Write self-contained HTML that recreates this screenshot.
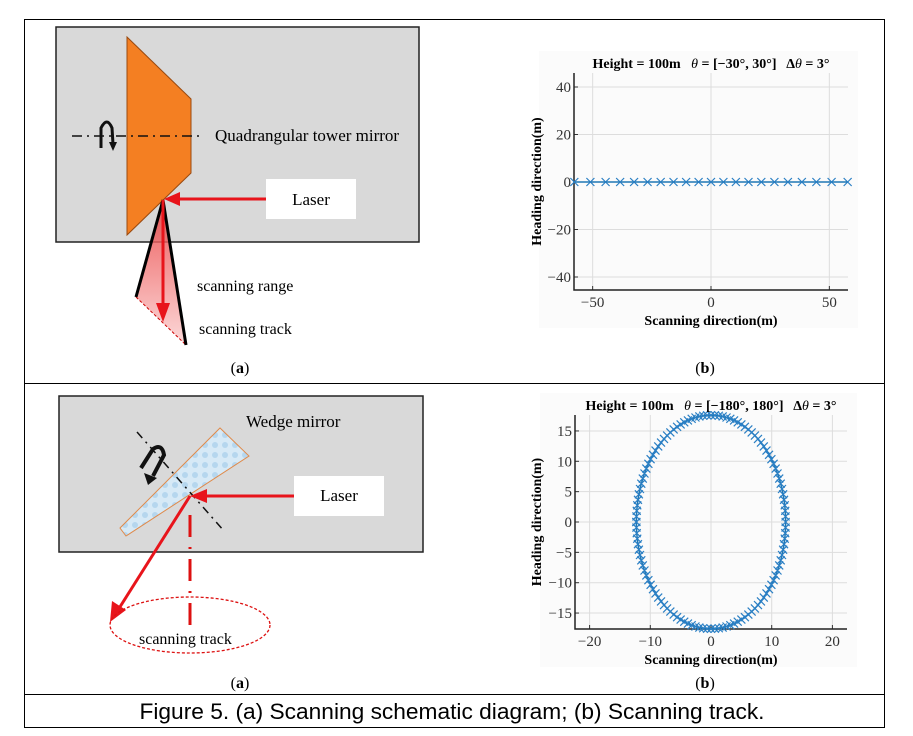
<!DOCTYPE html>
<html><head><meta charset="utf-8"><style>
html,body{margin:0;padding:0;background:#fff;}
svg{display:block;}
text{font-family:"Liberation Serif",serif;}
</style></head><body>
<svg id="s" width="913" height="736" viewBox="0 0 913 736" xmlns="http://www.w3.org/2000/svg">
<defs>
<linearGradient id="pk" x1="0" y1="0" x2="0" y2="1"><stop offset="0" stop-color="#e83030"/><stop offset="1" stop-color="#fbd0d0"/></linearGradient>
<pattern id="wb" width="10" height="10" patternUnits="userSpaceOnUse"><rect width="10" height="10" fill="#d6e9f6"/><circle cx="5" cy="5" r="3" fill="#b5d6ee"/></pattern>
</defs>
<rect x="24.5" y="19.5" width="860" height="708" fill="none" stroke="#000" stroke-width="1"/>
<line x1="24" y1="383.5" x2="885" y2="383.5" stroke="#000"/>
<line x1="24" y1="694.5" x2="885" y2="694.5" stroke="#000"/>

<rect x="56" y="27" width="363" height="215" fill="#d9d9d9" stroke="#222" stroke-width="1.5"/>
<polygon points="127,37 191,99 191,173 127,235" fill="#f47f22" stroke="#9a4a10" stroke-width="1"/>
<line x1="72" y1="136" x2="203" y2="136" stroke="#111" stroke-width="1.5" stroke-dasharray="10,5,2,5"/>
<path d="M101,148 L101,128 Q107,116 112,128 L113,144" fill="none" stroke="#111" stroke-width="3"/>
<polygon points="109,142 117,142 113,151" fill="#111"/>
<text x="215" y="141" font-size="17">Quadrangular tower mirror</text>
<rect x="266" y="179" width="90" height="40" fill="#fff"/>
<text x="311" y="205" font-size="17" text-anchor="middle">Laser</text>
<line x1="266" y1="199" x2="178" y2="199" stroke="#e8141b" stroke-width="3"/>
<polygon points="164,199 180,192 180,206" fill="#e8141b"/>
<polygon points="163,200 136,297 186,345" fill="url(#pk)" opacity="0.8"/>
<line x1="136" y1="297" x2="186" y2="345" stroke="#c00" stroke-width="1" stroke-dasharray="3,2"/>
<line x1="163" y1="200" x2="136" y2="297" stroke="#000" stroke-width="3"/>
<line x1="163" y1="200" x2="186" y2="345" stroke="#000" stroke-width="3"/>
<line x1="163" y1="200" x2="163" y2="305" stroke="#e8141b" stroke-width="3"/>
<polygon points="156,303 170,303 163,322" fill="#e8141b"/>
<text x="197" y="291" font-size="16">scanning range</text>
<text x="199" y="334" font-size="16">scanning track</text>
<text x="240" y="373" font-size="16" text-anchor="middle">(<tspan font-weight="bold">a</tspan>)</text>

<g id="p1"></g>
<text x="705" y="373" font-size="16" text-anchor="middle">(<tspan font-weight="bold">b</tspan>)</text>

<rect x="59" y="396" width="364" height="156" fill="#d9d9d9" stroke="#222" stroke-width="1.5"/>
<text x="246" y="427" font-size="17">Wedge mirror</text>
<polygon points="120,528 220,428 249,456 126,536" fill="url(#wb)" stroke="#e08a4a" stroke-width="1"/>
<line x1="137" y1="432" x2="224" y2="531" stroke="#111" stroke-width="1.5" stroke-dasharray="8,5,2,5"/>
<path d="M141,468 L153,449 Q162,443 164,455 L153,476" fill="none" stroke="#111" stroke-width="4"/>
<polygon points="144,473 157,478 148,485" fill="#111"/>
<rect x="294" y="476" width="90" height="40" fill="#fff"/>
<text x="339" y="501" font-size="17" text-anchor="middle">Laser</text>
<line x1="294" y1="496" x2="205" y2="496" stroke="#e8141b" stroke-width="3"/>
<polygon points="190,496 207,489 207,503" fill="#e8141b"/>
<line x1="190" y1="496" x2="118" y2="610" stroke="#e8141b" stroke-width="3"/>
<polygon points="110,622 112,601 126,610" fill="#e8141b"/>
<line x1="190" y1="515" x2="190" y2="627" stroke="#d11" stroke-width="3" stroke-dasharray="22,10,2,10"/>
<ellipse cx="190" cy="625" rx="80" ry="28" fill="none" stroke="#d11" stroke-width="1.3" stroke-dasharray="3,2"/>
<text x="139" y="644" font-size="16">scanning track</text>
<text x="240" y="688" font-size="16" text-anchor="middle">(<tspan font-weight="bold">a</tspan>)</text>

<g id="p2"></g>
<text x="705" y="688" font-size="16" text-anchor="middle">(<tspan font-weight="bold">b</tspan>)</text>

<text x="452" y="719" font-size="22" text-anchor="middle" textLength="625" lengthAdjust="spacingAndGlyphs" style="font-family:'Liberation Sans Narrow','Liberation Sans',sans-serif">Figure 5. (a) Scanning schematic diagram; (b) Scanning track.</text>
</svg>
<script>
var NS="http://www.w3.org/2000/svg";
function el(g,t,a,txt){var e=document.createElementNS(NS,t);for(var k in a)e.setAttribute(k,a[k]);if(txt!==undefined)e.textContent=txt;g.appendChild(e);return e;}
function plot(id,o){
 var g=document.getElementById(id);
 var X=function(v){return o.x0+v*o.sx;},Y=function(v){return o.y0-v*o.sy;};
 el(g,"rect",{x:o.L-35,y:o.T-22,width:o.R-o.L+45,height:o.B-o.T+60,fill:"#fbfbfb"});
 o.xt.forEach(function(v){el(g,"line",{x1:X(v),y1:o.T,x2:X(v),y2:o.B,stroke:"#ddd"});
  el(g,"line",{x1:X(v),y1:o.B,x2:X(v),y2:o.B-4,stroke:"#333"});
  el(g,"text",{x:X(v),y:o.B+17,"font-size":15,"text-anchor":"middle",fill:"#333"},v<0?"\u2212"+(-v):v);});
 o.yt.forEach(function(v){el(g,"line",{x1:o.L,y1:Y(v),x2:o.R,y2:Y(v),stroke:"#ddd"});
  el(g,"line",{x1:o.L,y1:Y(v),x2:o.L+4,y2:Y(v),stroke:"#333"});
  el(g,"text",{x:o.L-3,y:Y(v)+5,"font-size":15,"text-anchor":"end",fill:"#333"},v<0?"\u2212"+(-v):v);});
 el(g,"polyline",{points:o.L+","+o.T+" "+o.L+","+o.B+" "+o.R+","+o.B,fill:"none",stroke:"#222","stroke-width":1.5});
 var pts=o.pts.map(function(p){return X(p[0])+","+Y(p[1]);}).join(" ");
 el(g,"polyline",{points:pts,fill:"none",stroke:"#1f77b4","stroke-width":1.5});
 o.pts.forEach(function(p){var x=X(p[0]),y=Y(p[1]),d=4;
  el(g,"path",{d:"M"+(x-d)+","+(y-d)+"L"+(x+d)+","+(y+d)+"M"+(x-d)+","+(y+d)+"L"+(x+d)+","+(y-d),stroke:"#2a7fc4","stroke-width":1.2});});
 el(g,"text",{x:(o.L+o.R)/2,y:o.B+35,"font-size":14,"font-weight":"bold","text-anchor":"middle"},"Scanning direction(m)");
 el(g,"text",{x:0,y:0,"font-size":14,"font-weight":"bold","text-anchor":"middle",transform:"translate("+o.yl+","+((o.T+o.B)/2)+") rotate(-90)"},"Heading direction(m)");
 var t=el(g,"text",{x:(o.L+o.R)/2,y:o.T-5,"font-size":14,"font-weight":"bold","text-anchor":"middle"});
 t.innerHTML=o.title;
}
var p=[];for(var a=-30;a<=30;a+=3)p.push([100*Math.tan(a*Math.PI/180),0]);
plot("p1",{L:574,R:848,T:73,B:290,x0:711,y0:182,sx:2.367,sy:2.375,xt:[-50,0,50],yt:[40,20,0,-20,-40],pts:p,yl:541,
 title:'Height = 100m &#160; <tspan font-style="italic" font-weight="normal">θ</tspan> = [−30°, 30°] &#160; Δ<tspan font-style="italic" font-weight="normal">θ</tspan> = 3°'});
var q=[];for(var a=-180;a<=180;a+=3){var r=a*Math.PI/180;q.push([12.3*Math.cos(r),17.6*Math.sin(r)]);}
plot("p2",{L:575,R:847,T:415,B:629,x0:711,y0:522,sx:6.07,sy:6.07,xt:[-20,-10,0,10,20],yt:[15,10,5,0,-5,-10,-15],pts:q,yl:541,
 title:'Height = 100m &#160; <tspan font-style="italic" font-weight="normal">θ</tspan> = [−180°, 180°] &#160; Δ<tspan font-style="italic" font-weight="normal">θ</tspan> = 3°'});
</script>
</body></html>
